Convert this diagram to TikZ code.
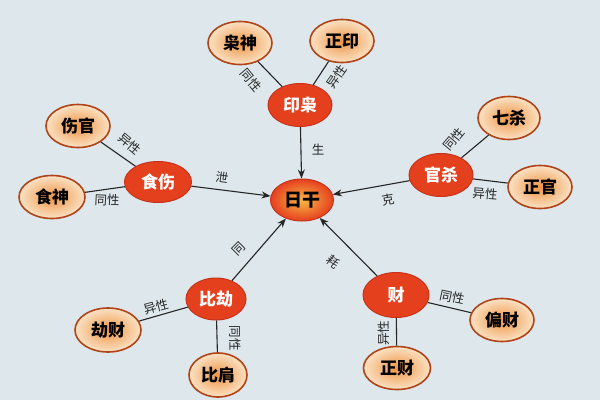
\documentclass[tikz,border=0pt]{standalone}
\usepackage{fontspec}
\newfontfamily\cjk{Noto Sans CJK SC}
\usetikzlibrary{shapes.geometric,arrows.meta}
\definecolor{bg}{HTML}{DDE7EC}
\definecolor{redfill}{HTML}{E5401E}
\definecolor{redline}{HTML}{C8321A}
\definecolor{outline}{HTML}{B04418}
\definecolor{peachin}{HTML}{EE9446}
\definecolor{peachout}{HTML}{FBE2C4}
\definecolor{corein}{HTML}{F8B848}
\tikzset{
  inner/.style={ellipse,inner sep=0pt,minimum width=64pt,minimum height=43pt,
    fill=redfill,draw=redline,line width=1pt,text=white,
    font=\cjk\bfseries\fontsize{17}{17}\selectfont},
  outer/.style={ellipse,inner sep=0pt,minimum width=64pt,minimum height=43pt,
    inner color=peachin,outer color=peachout,
    draw=outline,line width=1.6pt,text=black,
    font=\cjk\bfseries\fontsize{17}{17}\selectfont},
  core/.style={ellipse,inner sep=0pt,minimum width=63pt,minimum height=42pt,
    inner color=corein,outer color=redfill,
    draw=redline,line width=1pt,text=black,
    font=\cjk\bfseries\fontsize{18}{18}\selectfont},
  lbl/.style={inner sep=0pt,text=black!85,font=\cjk\fontsize{12.5}{12.5}\selectfont},
  link/.style={line width=1.1pt,draw=black!85},
  arr/.style={line width=1.1pt,draw=black!85,-{Stealth[length=9pt,width=7pt]}}
}
\begin{document}
\begin{tikzpicture}[x=1pt,y=-1pt]
\fill[bg] (0,0) rectangle (600,400);
\useasboundingbox (0,0) rectangle (600,400);
% nodes
\node[core] (ri) at (302,200) {日干};
\node[inner] (yx) at (300,105) {印枭};
\node[outer] (xs) at (240,43) {枭神};
\node[outer] (zy) at (342,41) {正印};
\node[inner,minimum width=67pt,minimum height=41pt] (ss) at (158,182) {食伤};
\node[outer] (sg) at (78,126) {伤官};
\node[outer,minimum width=66pt] (sn) at (52,197) {食神};
\node[inner] (gs) at (441,175) {官杀};
\node[outer,minimum width=62pt] (qs) at (509,118) {七杀};
\node[outer] (zg) at (540,187) {正官};
\node[inner,minimum width=60pt,minimum height=42pt] (bj) at (216,299) {比劫};
\node[outer,minimum width=66pt,minimum height=44pt] (jc) at (108,330) {劫财};
\node[outer,minimum width=58pt,minimum height=44pt] (bjn) at (218,375) {比肩};
\node[inner,minimum width=66pt,minimum height=45pt] (cai) at (396,295) {财};
\node[outer] (pc) at (502,320) {偏财};
\node[outer,minimum width=67pt] (zc) at (397,368) {正财};
% links
\draw[link] (xs) -- (yx);
\draw[link] (zy) -- (yx);
\draw[link] (sg) -- (ss);
\draw[link] (sn) -- (ss);
\draw[link] (qs) -- (gs);
\draw[link] (zg) -- (gs);
\draw[link] (jc) -- (bj);
\draw[link] (bjn) -- (bj);
\draw[link] (pc) -- (cai);
\draw[link] (zc) -- (cai);
% arrows
\draw[arr] (yx) -- (ri);
\draw[arr] (ss) -- (ri);
\draw[arr] (gs) -- (ri);
\draw[arr] (bj) -- (ri);
\draw[arr] (cai) -- (ri);
% labels
\node[lbl] (l1) at (318,150) {生};
\node[lbl,rotate=-8] (l2) at (222,178) {泄};
\node[lbl,rotate=10] (l3) at (388,200) {克};
\node[lbl,rotate=45] (l4) at (239,249) {同};
\node[lbl,rotate=-40] (l5) at (333,262) {耗};
\node[lbl,rotate=-50] (l6) at (251,80) {同性};
\node[lbl,rotate=55] (l7) at (337,77) {异性};
\node[lbl,rotate=-40] (l8) at (130,144) {异性};
\node[lbl,rotate=-3] (l9) at (107,200) {同性};
\node[lbl,rotate=50] (l10) at (454,139) {同性};
\node[lbl,rotate=-5] (l11) at (485,194) {异性};
\node[lbl,rotate=15] (l12) at (156,307) {异性};
\node[lbl,rotate=-90] (l13) at (235,338) {同性};
\node[lbl,rotate=-12] (l14) at (452,297) {同性};
\node[lbl,rotate=90] (l15) at (384,333) {异性};
\end{tikzpicture}
\end{document}
